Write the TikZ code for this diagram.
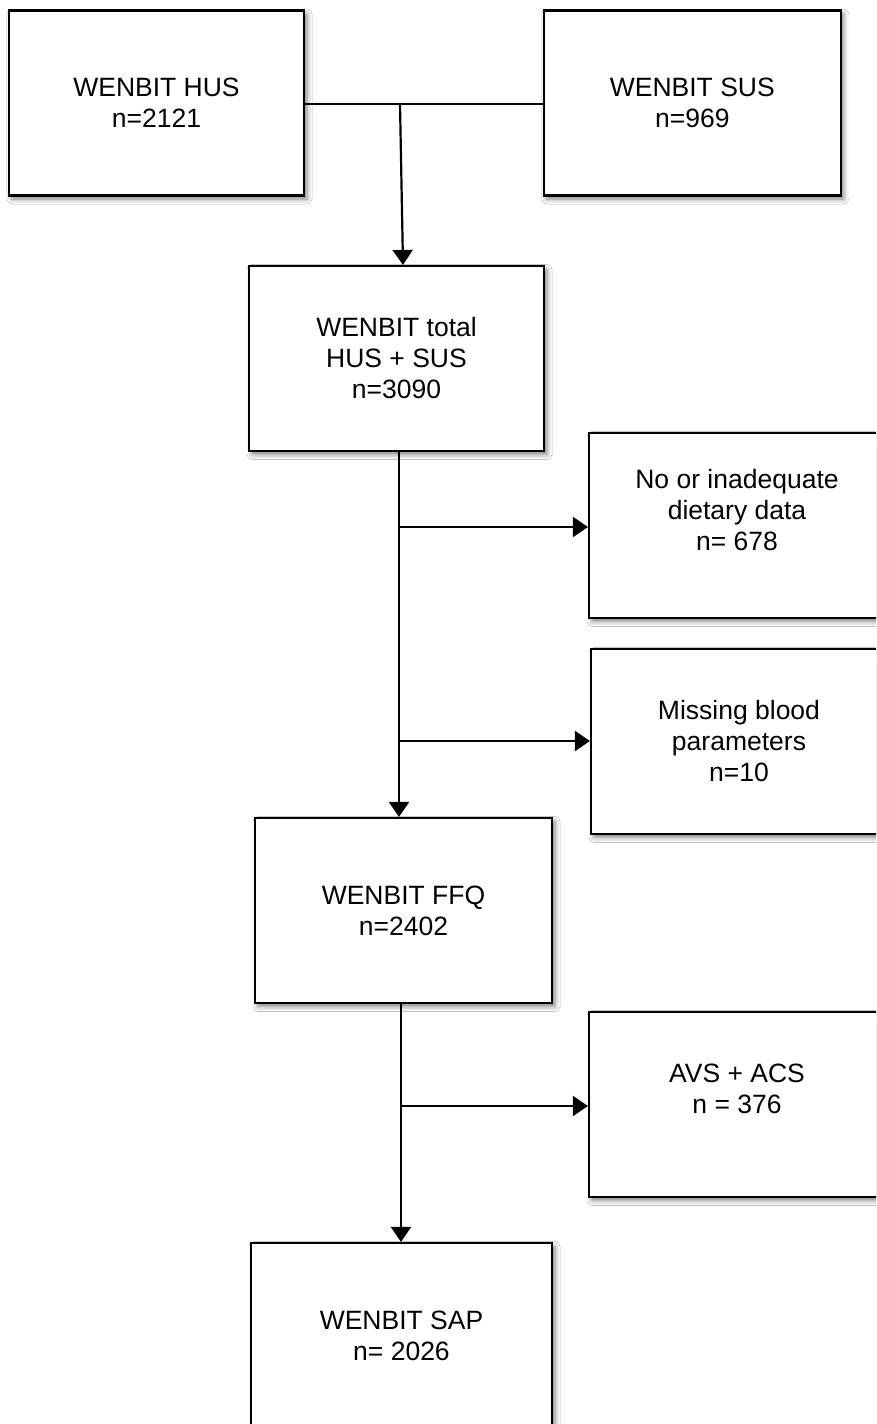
\documentclass[tikz,border=0pt]{standalone}
\usepackage{fontspec}
\setmainfont{Liberation Sans}
\usetikzlibrary{arrows.meta,shadows.blur}
\begin{document}
\begin{tikzpicture}[x=1pt,y=-1pt,
  box/.style={draw=black, line width=2.2pt, fill=white, align=center,
    font=\fontsize{26.5}{31}\selectfont, inner sep=0pt,
    minimum height=185pt,
    blur shadow={shadow xshift=3pt, shadow yshift=-3.5pt, shadow blur radius=5pt, shadow opacity=50}},
  conn/.style={line width=2.2pt, draw=black},
  arr/.style={conn, -{Triangle[length=15pt,width=20pt]}}]
\clip (0,0) rectangle (876,1424);
\fill[white] (0,0) rectangle (876,1424);

\node[box, minimum width=295pt] (hus) at (156.5,103) {WENBIT HUS\\n=2121};
\node[box, minimum width=297pt] (sus) at (692.3,103) {WENBIT SUS\\n=969};
\node[box, minimum width=295pt] (total) at (396.5,358.5) {WENBIT total\\HUS + SUS\\n=3090};
\node[box, minimum width=296pt] (nodiet) at (737,525.5) {No or inadequate\\dietary data\\n= 678\\~};
\node[box, minimum width=296pt] (blood) at (739,741.5) {Missing blood\\parameters\\n=10};
\node[box, minimum width=297pt] (ffq) at (403.5,910.5) {WENBIT FFQ\\n=2402};
\node[box, minimum width=296pt] (avs) at (737,1104.5) {AVS + ACS\\n = 376\\~};
\node[box, minimum width=301pt] (sap) at (401.5,1335.5) {WENBIT SAP\\n= 2026};

\coordinate (j1) at (400,104);
\draw[conn] (hus.east |- j1) -- (sus.west |- j1);
\draw[arr] (j1) -- ([xshift=6.5pt]total.north);

\coordinate (t2) at (399,0);
\draw[arr] (total.south -| t2) -- (ffq.north -| t2);
\coordinate (j2) at (399,527);
\draw[arr] (j2) -- (nodiet.west |- j2);
\coordinate (j3) at (399,741);
\draw[arr] (j3) -- (blood.west |- j3);

\coordinate (t3) at (401,0);
\draw[arr] (ffq.south -| t3) -- (sap.north -| t3);
\coordinate (j4) at (401,1106);
\draw[arr] (j4) -- (avs.west |- j4);
\end{tikzpicture}
\end{document}
